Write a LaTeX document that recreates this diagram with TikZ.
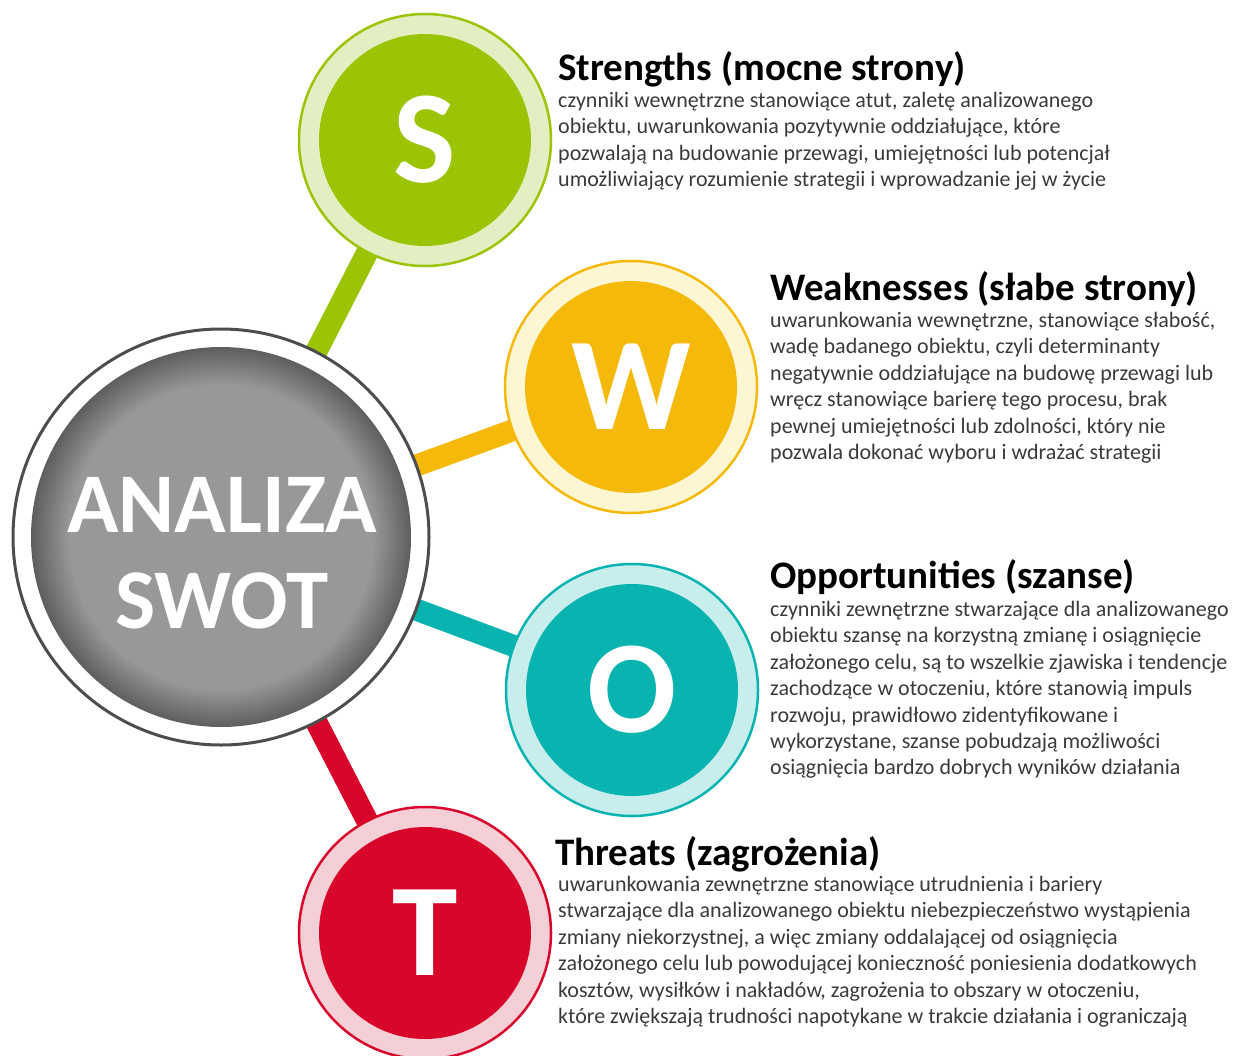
\documentclass[tikz,border=0pt]{standalone}
\usepackage{fontspec}
\setmainfont{Carlito}
\definecolor{coremid}{HTML}{989898}
\definecolor{coreedge}{HTML}{5E5E5E}
\definecolor{coreline}{HTML}{4D4D4D}
\definecolor{sMain}{HTML}{9BC405}
\definecolor{sRing}{HTML}{E3EFC2}
\definecolor{wMain}{HTML}{F5B90A}
\definecolor{wRing}{HTML}{FDF6D3}
\definecolor{oMain}{HTML}{08B3B0}
\definecolor{oRing}{HTML}{C7EDEC}
\definecolor{tMain}{HTML}{D9062C}
\definecolor{tRing}{HTML}{F4CFD6}
\definecolor{bodytext}{HTML}{3A3A3A}
\pgfdeclareradialshading{vignette}{\pgfpointorigin}{color(0bp)=(coremid); color(20bp)=(coremid); color(25bp)=(coreedge); color(50bp)=(coreedge)}
\pgfdeclarelayer{bg}
\pgfsetlayers{bg,main}
\tikzset{
  ring/.style={circle, minimum size=252pt, inner sep=0pt, line width=2.5pt},
  disk/.style={circle, minimum size=212pt, inner sep=0pt, text=white,
    font=\fontsize{132}{132}\selectfont\bfseries},
  link/.style={line width=22pt},
  headline/.style={anchor=base west, inner sep=0pt, text=black,
    font=\fontsize{39}{44}\selectfont\bfseries},
  bodyblock/.style={anchor=north west, inner sep=0pt, align=left, text=bodytext,
    font=\fontsize{22}{26.4}\selectfont},
}
\begin{document}
\begin{tikzpicture}[x=1pt,y=-1pt]
\useasboundingbox (0,0) rectangle (1236,1055);
% core circle
\node[circle, minimum size=416pt, inner sep=0pt, fill=white, draw=coreline, line width=3pt] (core) at (221,537) {};
\node[circle, minimum size=380pt, inner sep=0pt, shading=vignette] (coreIn) at (core.center) {};
\node[align=center, text=white, inner sep=0pt, font=\fontsize{85}{96}\selectfont\bfseries] (coreText) at (222,553) {ANALIZA\\SWOT};
% letter circles
\node[ring, fill=sRing, draw=sMain] (Sring) at (425,140) {};
\node[ring, fill=wRing, draw=wMain] (Wring) at (631,387) {};
\node[ring, fill=oRing, draw=oMain] (Oring) at (632,690) {};
\node[ring, fill=tRing, draw=tMain] (Tring) at (425,933) {};
\node[disk, fill=sMain] (S) at (Sring.center) {S};
\node[disk, fill=wMain] (W) at (Wring.center) {W};
\node[disk, fill=oMain] (O) at (Oring.center) {O};
\node[disk, fill=tMain] (T) at (Tring.center) {T};
% connectors (behind)
\begin{pgfonlayer}{bg}
\draw[link, sMain] (core.center) -- (Sring.center);
\draw[link, wMain] (core.center) -- (Wring.center);
\draw[link, oMain] (core.center) -- (Oring.center);
\draw[link, tMain] (core.center) -- (Tring.center);
\end{pgfonlayer}
% texts
\node[headline] (sHead) at (558,80) {Strengths (mocne strony)};
\node[bodyblock] (sBody) at (558,92) {czynniki wewnętrzne stanowiące atut, zaletę analizowanego\\obiektu, uwarunkowania pozytywnie oddziałujące, które\\pozwalają na budowanie przewagi, umiejętności lub potencjał\\umożliwiający rozumienie strategii i wprowadzanie jej w życie};
\node[headline] (wHead) at (770,300) {Weaknesses (słabe strony)};
\node[bodyblock] (wBody) at (770,312) {uwarunkowania wewnętrzne, stanowiące słabość,\\wadę badanego obiektu, czyli determinanty\\negatywnie oddziałujące na budowę przewagi lub\\wręcz stanowiące barierę tego procesu, brak\\pewnej umiejętności lub zdolności, który nie\\pozwala dokonać wyboru i wdrażać strategii};
\node[headline] (oHead) at (770,588) {Opportunities (szanse)};
\node[bodyblock] (oBody) at (770,601) {czynniki zewnętrzne stwarzające dla analizowanego\\obiektu szansę na korzystną zmianę i osiągnięcie\\założonego celu, są to wszelkie zjawiska i tendencje\\zachodzące w otoczeniu, które stanowią impuls\\rozwoju, prawidłowo zidentyfikowane i\\wykorzystane, szanse pobudzają możliwości\\osiągnięcia bardzo dobrych wyników działania};
\node[headline] (tHead) at (555,865) {Threats (zagrożenia)};
\node[bodyblock] (tBody) at (558,876) {uwarunkowania zewnętrzne stanowiące utrudnienia i bariery\\stwarzające dla analizowanego obiektu niebezpieczeństwo wystąpienia\\zmiany niekorzystnej, a więc zmiany oddalającej od osiągnięcia\\założonego celu lub powodującej konieczność poniesienia dodatkowych\\kosztów, wysiłków i nakładów, zagrożenia to obszary w otoczeniu,\\które zwiększają trudności napotykane w trakcie działania i ograniczają};
\end{tikzpicture}
\end{document}
